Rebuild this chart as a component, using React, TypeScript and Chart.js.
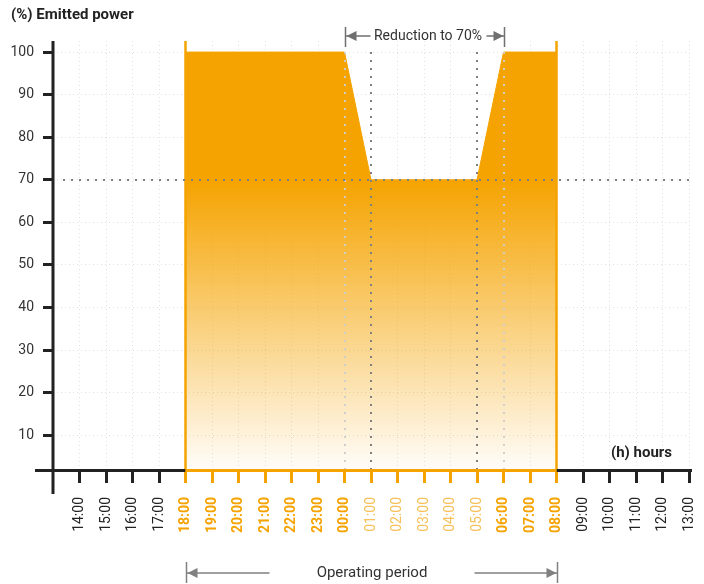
import React, { useEffect, useRef } from 'react';
import { Chart, registerables } from 'chart.js';

Chart.register(...registerables);

// ---- data ----
const hourLabels = [
  '14:00', '15:00', '16:00', '17:00', '18:00', '19:00', '20:00', '21:00', '22:00', '23:00',
  '00:00', '01:00', '02:00', '03:00', '04:00', '05:00', '06:00', '07:00', '08:00',
  '09:00', '10:00', '11:00', '12:00', '13:00',
];
const emittedPower: (number | null)[] = [
  null, null, null, null, 100, 100, 100, 100, 100, 100,
  100, 70, 70, 70, 70, 70, 100, 100, 100,
  null, null, null, null, null,
];
// 'off' = outside operating period, 'on' = full power, 'reduced' = reduced power
const hourStyle = [
  'off', 'off', 'off', 'off', 'on', 'on', 'on', 'on', 'on', 'on',
  'on', 'reduced', 'reduced', 'reduced', 'reduced', 'reduced', 'on', 'on', 'on',
  'off', 'off', 'off', 'off', 'off',
];
const yTicks = [10, 20, 30, 40, 50, 60, 70, 80, 90, 100];
const reducedLevel = 70;
const operatingStart = '18:00';
const operatingEnd = '08:00';
const reductionStart = '00:00';
const reductionEnd = '06:00';
const reductionInner = ['01:00', '05:00'];

const titleText = '(%) Emitted power';
const xAxisText = '(h) hours';
const reductionText = 'Reduction to 70%';
const operatingText = 'Operating period';

// ---- style ----
const ORANGE = '#F5A300';
const LIGHT_ORANGE = '#F7C05A';
const DARK = '#222222';
const GRID = 'rgba(222,222,222,0.92)';
const FONT = 'Roboto';
const Y_MIN = 1.6;
const Y_MAX = 102.6;

const opStartIdx = hourLabels.indexOf(operatingStart);
const opEndIdx = hourLabels.indexOf(operatingEnd);
const redStartIdx = hourLabels.indexOf(reductionStart);
const redEndIdx = hourLabels.indexOf(reductionEnd);
const redInnerIdx = reductionInner.map((h) => hourLabels.indexOf(h));
const hiddenGridIdx = [opStartIdx, opEndIdx, redStartIdx, redEndIdx, ...redInnerIdx];

function arrowHead(ctx: CanvasRenderingContext2D, tipX: number, y: number, dir: number) {
  ctx.beginPath();
  ctx.moveTo(tipX, y);
  ctx.lineTo(tipX - dir * 10, y - 5);
  ctx.lineTo(tipX - dir * 10, y + 5);
  ctx.closePath();
  ctx.fill();
}

const overlayPlugin = {
  id: 'overlay',
  afterDraw(chart: any) {
    const { ctx, chartArea, scales } = chart;
    const x = scales.x;
    const y = scales.y;
    const px = (i: number) => x.getPixelForValue(i);
    const py = (v: number) => y.getPixelForValue(v);
    const top100 = py(100);
    const bottom = chartArea.bottom;
    ctx.save();

    // light dotted verticals at reduction start/end
    ctx.lineWidth = 2;
    ctx.setLineDash([2, 6]);
    ctx.strokeStyle = 'rgba(205,205,205,0.95)';
    [redStartIdx, redEndIdx].forEach((i) => {
      const xx = Math.round(px(i));
      ctx.beginPath();
      ctx.moveTo(xx, top100);
      ctx.lineTo(xx, bottom);
      ctx.stroke();
    });
    // dark dotted verticals at reduced section
    ctx.strokeStyle = '#808080';
    redInnerIdx.forEach((i) => {
      const xx = Math.round(px(i));
      ctx.beginPath();
      ctx.moveTo(xx, top100);
      ctx.lineTo(xx, bottom);
      ctx.stroke();
    });
    // horizontal reduced level line
    const y70 = Math.round(py(reducedLevel));
    ctx.beginPath();
    ctx.moveTo(chartArea.left + 10, y70);
    ctx.lineTo(chartArea.right + 4, y70);
    ctx.stroke();

    // axes
    ctx.setLineDash([]);
    ctx.lineWidth = 3;
    const axisY = bottom - 0.5;
    ctx.strokeStyle = DARK;
    ctx.beginPath();
    ctx.moveTo(chartArea.left - 18, axisY);
    ctx.lineTo(px(opStartIdx), axisY);
    ctx.moveTo(px(opEndIdx), axisY);
    ctx.lineTo(chartArea.right + 3, axisY);
    ctx.stroke();
    ctx.strokeStyle = ORANGE;
    ctx.beginPath();
    ctx.moveTo(px(opStartIdx), axisY);
    ctx.lineTo(px(opEndIdx), axisY);
    ctx.stroke();
    ctx.strokeStyle = DARK;
    ctx.beginPath();
    ctx.moveTo(chartArea.left, chartArea.top);
    ctx.lineTo(chartArea.left, bottom + 23);
    ctx.stroke();

    // texts
    ctx.fillStyle = DARK;
    ctx.font = `bold 15px ${FONT}`;
    ctx.textAlign = 'left';
    ctx.textBaseline = 'middle';
    ctx.fillText(titleText, 11, 15);
    ctx.textAlign = 'right';
    ctx.fillText(xAxisText, 672, 453);

    // reduction annotation
    const rx1 = Math.round(px(redStartIdx)) + 0.5;
    const rx2 = Math.round(px(redEndIdx)) + 0.5;
    const ry = 36;
    ctx.strokeStyle = '#707070';
    ctx.fillStyle = '#707070';
    ctx.lineWidth = 1.5;
    ctx.beginPath();
    ctx.moveTo(rx1, 27);
    ctx.lineTo(rx1, 47);
    ctx.moveTo(rx2, 27);
    ctx.lineTo(rx2, 47);
    ctx.moveTo(rx1, ry);
    ctx.lineTo(rx1 + 25, ry);
    ctx.moveTo(rx2 - 18, ry);
    ctx.lineTo(rx2, ry);
    ctx.stroke();
    arrowHead(ctx, rx1 + 1, ry, -1);
    arrowHead(ctx, rx2 - 1, ry, 1);
    ctx.fillStyle = '#333';
    ctx.font = `14px ${FONT}`;
    ctx.textAlign = 'center';
    ctx.fillText(reductionText, (rx1 + rx2) / 2 + 3, ry);

    // operating period annotation
    const ox1 = Math.round(px(opStartIdx)) + 0.5;
    const ox2 = Math.round(px(opEndIdx)) + 0.5;
    const oy = 573;
    ctx.strokeStyle = '#808080';
    ctx.fillStyle = '#808080';
    ctx.beginPath();
    ctx.moveTo(ox1, 562);
    ctx.lineTo(ox1, 583);
    ctx.moveTo(ox2, 562);
    ctx.lineTo(ox2, 583);
    ctx.moveTo(ox1, oy);
    ctx.lineTo(ox1 + 83, oy);
    ctx.moveTo(ox2 - 83, oy);
    ctx.lineTo(ox2, oy);
    ctx.stroke();
    arrowHead(ctx, ox1 + 1, oy, -1);
    arrowHead(ctx, ox2 - 1, oy, 1);
    ctx.fillStyle = '#333';
    ctx.font = `15px ${FONT}`;
    ctx.textAlign = 'center';
    ctx.fillText(operatingText, (ox1 + ox2) / 2, oy);

    ctx.restore();
  },
};

export default function App() {
  const canvasRef = useRef<HTMLCanvasElement | null>(null);

  useEffect(() => {
    if (!canvasRef.current) return;
    const chart = new Chart(canvasRef.current, {
      type: 'line',
      data: {
        datasets: [
          {
            data: emittedPower.map((v, i) => ({ x: i, y: v })) as any,
            borderColor: ORANGE,
            borderWidth: 1,
            pointRadius: 0,
            tension: 0,
            spanGaps: false,
            fill: 'start',
            backgroundColor: (c: any) => {
              const { chart: ch } = c;
              const area = ch.chartArea;
              if (!area) return ORANGE;
              const g = ch.ctx.createLinearGradient(0, ch.scales.y.getPixelForValue(reducedLevel), 0, area.bottom);
              g.addColorStop(0, ORANGE);
              g.addColorStop(1, 'rgba(245,163,0,0.02)');
              return g;
            },
          },
          {
            data: [
              { x: opStartIdx, y: Y_MIN },
              { x: opStartIdx, y: Y_MAX },
            ],
            borderColor: ORANGE,
            borderWidth: 2.5,
            pointRadius: 0,
            fill: false,
          },
          {
            data: [
              { x: opEndIdx, y: Y_MIN },
              { x: opEndIdx, y: Y_MAX },
            ],
            borderColor: ORANGE,
            borderWidth: 2.5,
            pointRadius: 0,
            fill: false,
          },
        ],
      },
      options: {
        responsive: false,
        animation: false,
        layout: { padding: { top: 41, right: 15, left: 0, bottom: 0 } },
        plugins: { legend: { display: false }, tooltip: { enabled: false }, title: { display: false } },
        scales: {
          x: {
            type: 'linear',
            min: -1,
            max: hourLabels.length - 1,
            z: 1,
            afterBuildTicks: (s: any) => {
              s.ticks = hourLabels.map((_, i) => ({ value: i }));
            },
            afterFit: (s: any) => {
              s.height = 113;
              s.paddingLeft = 0;
              s.paddingRight = 0;
            },
            ticks: {
              autoSkip: false,
              minRotation: 90,
              maxRotation: 90,
              padding: 14,
              callback: (v: any) => hourLabels[v] ?? '',
              color: (c: any) => {
                const st = hourStyle[c.tick?.value];
                return st === 'on' ? ORANGE : st === 'reduced' ? LIGHT_ORANGE : DARK;
              },
              font: (c: any) => {
                const st = hourStyle[c.tick?.value];
                return { family: FONT, size: 14, weight: st === 'on' ? 'bold' : 'normal' } as any;
              },
            },
            grid: {
              color: (c: any) => (hiddenGridIdx.includes(c.tick?.value) ? 'rgba(0,0,0,0)' : GRID),
              lineWidth: 1,
              tickLength: 12,
              tickWidth: 3,
              tickColor: (c: any) => {
                const st = hourStyle[c.tick?.value];
                return st === 'off' ? DARK : ORANGE;
              },
              tickBorderDash: [],
            } as any,
            border: { display: false, dash: [1, 3] },
          },
          y: {
            min: Y_MIN,
            max: Y_MAX,
            z: 1,
            afterBuildTicks: (s: any) => {
              s.ticks = yTicks.map((v) => ({ value: v }));
            },
            afterFit: (s: any) => {
              s.width = 53;
              s.paddingTop = 0;
              s.paddingBottom = 0;
            },
            ticks: {
              padding: 9,
              color: '#333',
              font: { family: FONT, size: 14 },
            },
            grid: {
              color: GRID,
              lineWidth: 1,
              tickLength: 10,
              tickWidth: 3,
              tickColor: DARK,
              tickBorderDash: [],
            } as any,
            border: { display: false, dash: [1, 3] },
          },
        },
      } as any,
      plugins: [overlayPlugin],
    });
    return () => chart.destroy();
  }, []);

  return (
    <div style={{ position: 'fixed', left: 0, top: 0, width: 704, height: 584 }}>
      <canvas ref={canvasRef} width={704} height={584} style={{ display: 'block' }} />
    </div>
  );
}
